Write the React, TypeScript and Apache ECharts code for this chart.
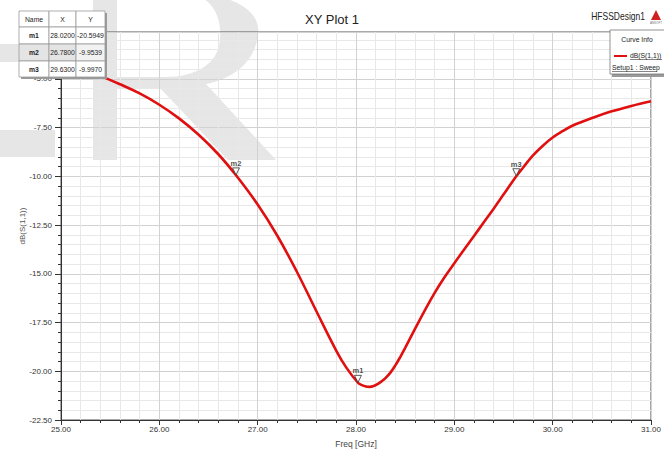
import React, { useEffect, useRef } from "react";
import * as echarts from "echarts";

// ---- data ----
const freq = [25.0, 25.2, 25.4, 25.6, 25.8, 26.0, 26.2, 26.4, 26.6, 26.78, 27.0, 27.2, 27.4, 27.6, 27.8, 27.9, 28.02, 28.06, 28.1, 28.14, 28.18, 28.22, 28.26, 28.3, 28.35, 28.4, 28.45, 28.5, 28.6, 28.7, 28.8, 28.9, 29.0, 29.1, 29.2, 29.3, 29.4, 29.5, 29.63, 29.7, 29.8, 29.9, 30.0, 30.1, 30.2, 30.3, 30.4, 30.6, 30.8, 31.0];
const s11 = [-4.07, -4.45, -4.85, -5.28, -5.75, -6.33, -7.03, -7.87, -8.87, -9.95, -11.45, -13.05, -14.91, -16.95, -18.95, -19.8, -20.59, -20.71, -20.78, -20.8, -20.76, -20.66, -20.52, -20.35, -20.07, -19.7, -19.27, -18.8, -17.83, -16.88, -15.98, -15.18, -14.46, -13.76, -13.06, -12.36, -11.66, -10.94, -9.997, -9.55, -8.93, -8.43, -8.01, -7.69, -7.41, -7.2, -7.01, -6.67, -6.39, -6.15];

const markerNames = ["m1", "m2", "m3"];
const markerX = [28.02, 26.78, 29.63];
const markerY = [-20.5949, -9.9539, -9.997];
const markerXText = ["28.0200", "26.7800", "29.6300"];
const markerYText = ["-20.5949", "-9.9539", "-9.9970"];

const xTicks = { min: 25, max: 31, step: 1 };
const yTicks = { min: -22.5, max: -2.6, step: 2.5 };

const FONT = "'Liberation Sans', Arial, sans-serif";

const R_PATH =
  "M93 -10 L160 -10 C232 -10 262 10 258 35 C255 60 236 78 206 84 L276 160 L228 160 L160 88 L117 88 L117 160 L93 160 Z " +
  "M117 -10 L117 77 L165 77 C196 77 218 64 220 40 C222 18 214 -10 170 -10 Z";

let registered = false;

export default function App() {
  const ref = useRef<HTMLDivElement>(null);
  useEffect(() => {
    if (!ref.current) return;
    if (!registered) {
      echarts.graphic.registerShape("wmR", echarts.graphic.extendPath(R_PATH, {}) as any);
      registered = true;
    }
    const chart = echarts.init(ref.current, null, { renderer: "svg" });

    const colX = [19, 49, 76, 105];
    const rowY = [11, 27, 44, 61, 77];
    const cells: any[] = [];
    const header = ["Name", "X", "Y"];
    for (let r = 0; r < 4; r++) {
      for (let c = 0; c < 3; c++) {
        const gray = r === 2 && c < 2;
        cells.push({
          type: "rect",
          shape: { x: colX[c], y: rowY[r], width: colX[c + 1] - colX[c], height: rowY[r + 1] - rowY[r] },
          style: { fill: gray ? "#e4e4e4" : r === 2 ? "#f2f2f2" : "#ffffff", stroke: "#9a9a9a", lineWidth: 0.8 },
          z: 10,
        });
        let txt = "";
        if (r === 0) txt = header[c];
        else txt = c === 0 ? markerNames[r - 1] : c === 1 ? markerXText[r - 1] : markerYText[r - 1];
        cells.push({
          type: "text",
          x: (colX[c] + colX[c + 1]) / 2,
          y: (rowY[r] + rowY[r + 1]) / 2,
          scaleX: 0.85,
          style: {
            text: txt,
            fill: "#222",
            font: `${r > 0 && c === 0 ? "bold " : ""}8px ${FONT}`,
            align: "center",
            verticalAlign: "middle",
          },
          z: 11,
        });
      }
    }

    const smallText = (text: string, x: number, y: number, align: string, size = 8) => ({
      type: "text",
      x,
      y,
      scaleX: 0.85,
      style: { text, fill: "#222", font: `${size}px ${FONT}`, align, verticalAlign: "middle" },
      z: 11,
    });

    const option: any = {
      animation: false,
      backgroundColor: "#ffffff",
      title: {
        text: "XY Plot 1",
        left: "center",
        top: 8,
        textStyle: { fontFamily: FONT, fontSize: 13, fontWeight: "normal", color: "#222" },
      },
      grid: {
        left: 61,
        right: 7,
        top: 32,
        bottom: 32,
        show: true,
        borderColor: "#555",
        borderWidth: 1,
        backgroundColor: "transparent",
      },
      xAxis: {
        type: "value",
        min: xTicks.min,
        max: xTicks.max,
        interval: xTicks.step,
        name: "Freq [GHz]",
        nameLocation: "middle",
        nameGap: 19,
        nameMoveOverlap: false,
        nameTextStyle: { fontFamily: FONT, fontSize: 8.5, color: "#444" },
        axisLine: { show: true, onZero: false, lineStyle: { color: "#333", width: 1 } },
        axisTick: { show: true, length: 5, lineStyle: { color: "#333" } },
        minorTick: { show: true, splitNumber: 5, length: 3, lineStyle: { color: "#333" } },
        axisLabel: {
          fontFamily: FONT,
          fontSize: 8,
          color: "#333",
          margin: 5,
          formatter: (v: number) => v.toFixed(2),
        },
        splitLine: { show: true, lineStyle: { color: "#d2d2d2", width: 1 } },
        minorSplitLine: { show: true, lineStyle: { color: "#e8e8e8", width: 1 } },
      },
      yAxis: {
        type: "value",
        min: yTicks.min,
        max: yTicks.max,
        interval: yTicks.step,
        name: "dB(S(1,1))",
        nameLocation: "middle",
        nameGap: 35,
        nameMoveOverlap: false,
        nameRotate: 90,
        nameTextStyle: { fontFamily: FONT, fontSize: 8, color: "#555" },
        axisLine: { show: true, onZero: false, lineStyle: { color: "#333", width: 1 } },
        axisTick: { show: true, length: 6, lineStyle: { color: "#333" } },
        minorTick: { show: true, splitNumber: 5, length: 3, lineStyle: { color: "#333" } },
        axisLabel: {
          fontFamily: FONT,
          fontSize: 8,
          color: "#333",
          margin: 9,
          formatter: (v: number) => {
            const k = (v - yTicks.min) / yTicks.step;
            return Math.abs(k - Math.round(k)) < 1e-6 ? v.toFixed(2) : "";
          },
        },
        splitLine: { show: true, lineStyle: { color: "#d2d2d2", width: 1 } },
        minorSplitLine: { show: true, lineStyle: { color: "#e8e8e8", width: 1 } },
      },
      series: [
        {
          type: "line",
          data: freq.map((f, i) => [f, s11[i]]),
          smooth: 0.4,
          showSymbol: false,
          lineStyle: { color: "#e01010", width: 2.6 },
          z: 3,
        },
        {
          type: "scatter",
          data: markerX.map((x, i) => ({ value: [x, markerY[i]], name: markerNames[i] })),
          symbol: "path://M0,0 L10,0 L5,10 Z",
          symbolSize: [7, 7],
          symbolOffset: [0, -4],
          itemStyle: { color: "#ffffff", borderColor: "#333", borderWidth: 1 },
          label: {
            show: true,
            position: "top",
            distance: 0,
            formatter: (p: any) => p.name,
            fontFamily: FONT,
            fontSize: 7.5,
            fontWeight: "bold",
            color: "#222",
          },
          z: 5,
        },
      ],
      graphic: [
        // watermark
        { type: "wmR", x: 0, y: 0, scaleX: 1, scaleY: 1, style: { fill: "#e6e6e6" }, z: -1, silent: true },
        { type: "rect", shape: { x: 0, y: 130, width: 55, height: 27 }, style: { fill: "#e6e6e6" }, z: -1, silent: true },
        { type: "rect", shape: { x: 0, y: 44, width: 19, height: 18 }, style: { fill: "#e6e6e6" }, z: -1, silent: true },
        // marker table shadow
        { type: "rect", shape: { x: 21, y: 13, width: 86, height: 66 }, style: { fill: "#9a9a9a" }, z: 9 },
        ...cells,
        // HFSS design label
        { ...smallText("HFSSDesign1", 645, 17, "right", 10), z: 10 },
        { type: "polygon", shape: { points: [[656, 10], [651, 20], [661, 20]] }, style: { fill: "#d02020" }, z: 10 },
        {
          type: "text",
          x: 656,
          y: 23,
          style: { text: "ANSOFT", fill: "#777", font: `3px ${FONT}`, align: "center", verticalAlign: "middle" },
          z: 10,
        },
        // Curve info box
        { type: "rect", shape: { x: 612, y: 32, width: 60, height: 45 }, style: { fill: "#9a9a9a" }, z: 9 },
        { type: "rect", shape: { x: 610, y: 30, width: 60, height: 44 }, style: { fill: "#ffffff", stroke: "#777", lineWidth: 0.8 }, z: 10 },
        smallText("Curve Info", 637, 39, "center"),
        { type: "line", shape: { x1: 614, y1: 56, x2: 627, y2: 56 }, style: { stroke: "#e01010", lineWidth: 2 }, z: 11 },
        smallText("dB(S(1,1))", 630, 55, "left"),
        { type: "line", shape: { x1: 630, y1: 59.5, x2: 662, y2: 59.5 }, style: { stroke: "#333", lineWidth: 0.6 }, z: 11 },
        smallText("Setup1 : Sweep", 612, 67, "left"),
        { type: "line", shape: { x1: 612, y1: 71.5, x2: 657, y2: 71.5 }, style: { stroke: "#333", lineWidth: 0.6 }, z: 11 },
      ],
    };
    chart.setOption(option);
    return () => chart.dispose();
  }, []);
  return (
    <div
      ref={ref}
      style={{ position: "fixed", left: 0, top: 0, width: 664, height: 453, background: "#fff" }}
    />
  );
}
